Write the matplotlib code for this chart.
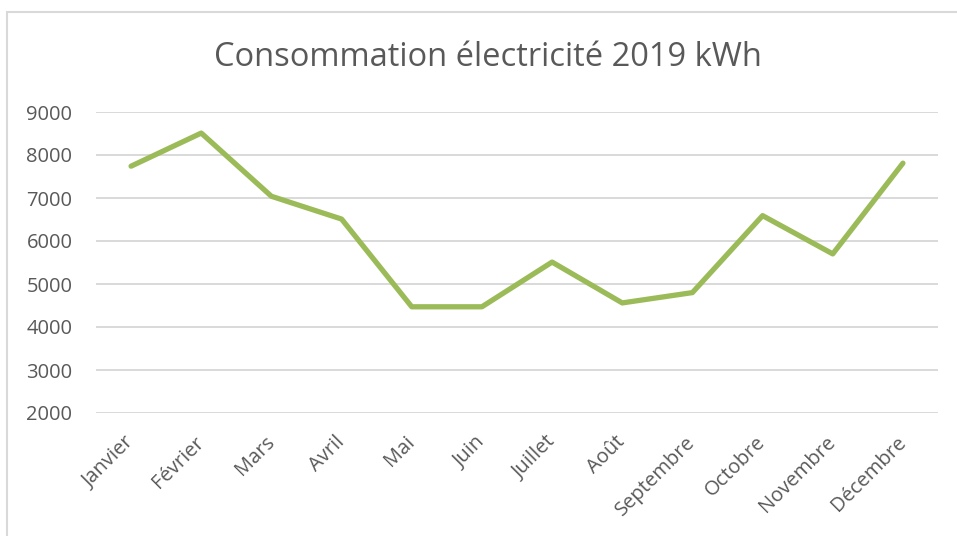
import matplotlib
matplotlib.use("Agg")
import matplotlib.pyplot as plt
from matplotlib.patches import Rectangle

months = ["Janvier", "Février", "Mars", "Avril", "Mai", "Juin", "Juillet",
          "Août", "Septembre", "Octobre", "Novembre", "Décembre"]
values = [7740, 8510, 7040, 6510, 4470, 4470, 5510, 4560, 4800, 6590, 5700, 7810]
yticks = [2000, 3000, 4000, 5000, 6000, 7000, 8000, 9000]
title = "Consommation électricité 2019 kWh"

plt.rcParams['font.family'] = ['Open Sans', 'DejaVu Sans']
text_color = "#595959"
grid_color = "#d9d9d9"

fig = plt.figure(figsize=(9.57, 5.36), dpi=100)
fig.patch.set_facecolor("white")

# outer chart border
fig.patches.append(Rectangle((7/957, -0.1), 1.2, (536-12)/536 + 0.1,
                             transform=fig.transFigure, fill=False,
                             edgecolor=grid_color, linewidth=1.5))

ax = fig.add_axes([96/957, 1-413/536, (938-96)/957, (413-112)/536])
x = list(range(len(months)))
ax.plot(x, values, color="#9BBB59", linewidth=3.8, solid_joinstyle="round",
        solid_capstyle="round", zorder=3)

ax.set_xlim(-0.5, len(months) - 0.5)
ax.set_ylim(2000, 9000)
ax.set_yticks(yticks)
ax.set_yticklabels([str(v) for v in yticks])
ax.set_xticks(x)
ax.set_xticklabels(months, rotation=45, ha="right", va="center",
                   rotation_mode="anchor")

ax.grid(axis="y", color=grid_color, linewidth=1.4, zorder=0)
ax.set_axisbelow(True)
for s in ax.spines.values():
    s.set_visible(False)
ax.tick_params(axis="both", length=0, colors=text_color, labelsize=14.5)
ax.tick_params(axis="y", pad=17)
ax.tick_params(axis="x", pad=19)

fig.text(488/957, 1-58/536, title, ha="center", va="center",
         fontsize=23.5, color=text_color)

fig.savefig("out.png", dpi=100)
